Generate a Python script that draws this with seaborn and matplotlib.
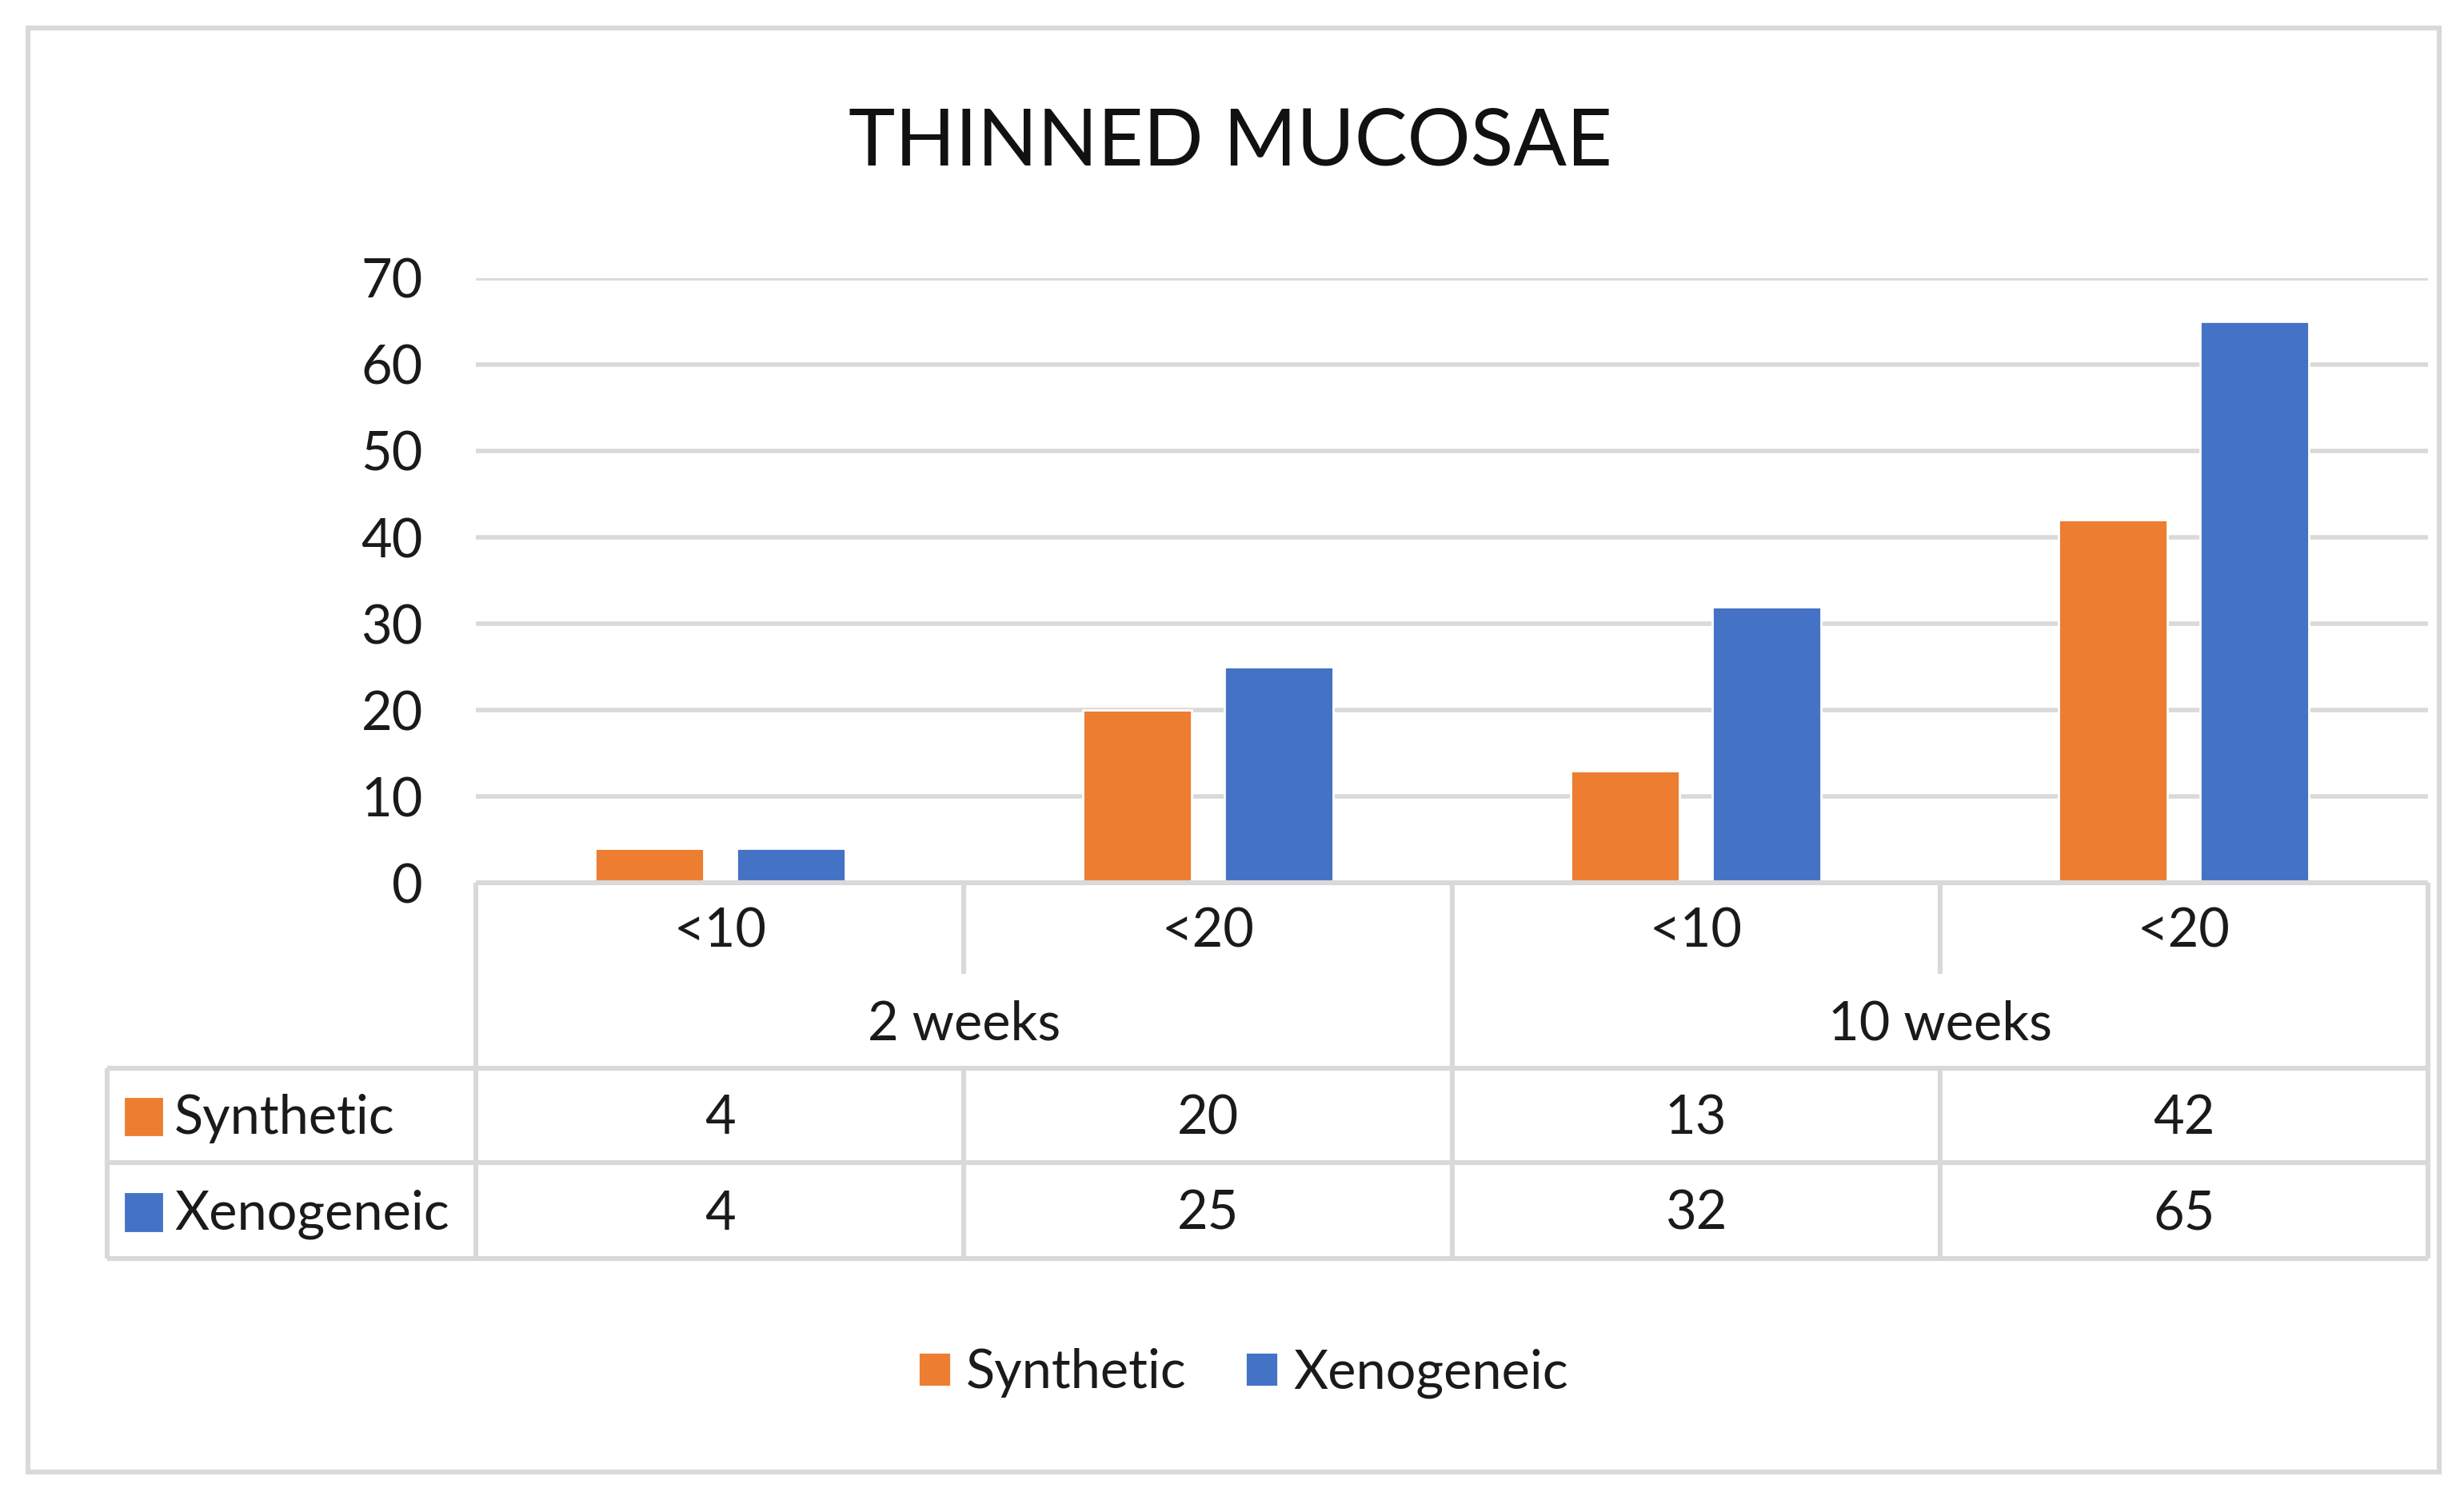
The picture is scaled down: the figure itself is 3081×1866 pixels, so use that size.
import numpy as np
import pandas as pd
import matplotlib
matplotlib.use("Agg")
import matplotlib.pyplot as plt
from matplotlib.patches import Rectangle
import seaborn as sns

# Chart data
groups = ["2 weeks", "2 weeks", "10 weeks", "10 weeks"]
thresholds = ["<10", "<20", "<10", "<20"]
synthetic = [4, 20, 13, 42]
xenogeneic = [4, 25, 32, 65]
series_names = ["Synthetic", "Xenogeneic"]
series_colors = ["#ED7D31", "#4472C4"]
y_ticks = [0, 10, 20, 30, 40, 50, 60, 70]
title = "THINNED MUCOSAE"

# Long table for seaborn
keys = [f"{g} {t}" for g, t in zip(groups, thresholds)]
df = pd.DataFrame({
    "key": keys * 2,
    "series": [series_names[0]] * 4 + [series_names[1]] * 4,
    "value": synthetic + xenogeneic,
})

sns.set_theme(style="white")
plt.rcParams['font.family'] = ['Lato', 'DejaVu Sans']

text_color = "#1a1a1a"
line_color = "#d9d9d9"
fs = 24

W, H = 3081, 1866
fig = plt.figure(figsize=(W / 200, H / 200), dpi=200)

# layout measured on a 1568 x 950 view of the reference
DW, DH = 1568.0, 949.6


def fx(px):
    return px / DW


def fy(py):
    return 1 - py / DH


ax_left, ax_right, ax_top, ax_bottom = 303, 1545, 177, 562
ax = fig.add_axes([fx(ax_left), fy(ax_bottom), fx(ax_right) - fx(ax_left),
                   fy(ax_top) - fy(ax_bottom)])

sns.barplot(data=df, x="key", y="value", hue="series", order=keys,
            hue_order=series_names, palette=series_colors, width=0.58,
            gap=0.23, errorbar=None, saturation=1, ax=ax)

ax.set_xlim(-0.5, 3.5)
ax.set_ylim(0, 70)
ax.set_yticks(y_ticks)
ax.set_yticklabels([str(v) for v in y_ticks], fontsize=fs, color=text_color)
ax.tick_params(axis="y", length=0, pad=24)
ax.set_xticks([])
ax.set_xlabel("")
ax.set_ylabel("")
for s in ax.spines.values():
    s.set_visible(False)
ax.yaxis.grid(True, color=line_color, linewidth=2)
ax.set_axisbelow(True)

# Legend at the bottom
sns.move_legend(ax, "center", bbox_to_anchor=(fx(791), fy(874)),
                bbox_transform=fig.transFigure, ncol=2, frameon=False,
                title=None, fontsize=fs, handlelength=0.62, handleheight=0.62,
                handletextpad=0.28, columnspacing=1.1)
for t in ax.get_legend().get_texts():
    t.set_color(text_color)

# Data table below the axis
tr = ax.get_xaxis_transform()
ax_h = ax_bottom - ax_top
cell = (ax_right - ax_left) / 4.0


def ya(py):
    return (ax_bottom - py) / ax_h


def xd(px):
    return (px - ax_left) / cell - 0.5


lw = 2.2
row_sub, row_grp, row_s1, row_s2 = 620, 680, 740, 801
x_lab = xd(68)


def hline(y, x0, x1):
    ax.plot([x0, x1], [ya(y), ya(y)], color=line_color, lw=lw,
            transform=tr, clip_on=False, solid_capstyle="butt")


def vline(x, y0, y1):
    ax.plot([x, x], [ya(y0), ya(y1)], color=line_color, lw=lw,
            transform=tr, clip_on=False, solid_capstyle="butt")


hline(ax_bottom, -0.5, 3.5)
for y in [row_grp, row_s1, row_s2]:
    hline(y, x_lab, 3.5)
for x in [-0.5, 1.5, 3.5]:
    vline(x, ax_bottom, row_s2)
for x in [0.5, 2.5]:
    vline(x, ax_bottom, row_sub)
    vline(x, row_grp, row_s2)
vline(x_lab, row_grp, row_s2)

for i, t in enumerate(thresholds):
    ax.text(i, ya(593), t, ha="center", va="center", fontsize=fs,
            color=text_color, transform=tr)
for g, c in [(groups[0], 0.5), (groups[2], 2.5)]:
    ax.text(c, ya(652), g, ha="center", va="center", fontsize=fs,
            color=text_color, transform=tr)

for row_y, vals, name, col in [(712, synthetic, series_names[0], series_colors[0]),
                               (773, xenogeneic, series_names[1], series_colors[1])]:
    for i, v in enumerate(vals):
        ax.text(i, ya(row_y), str(v), ha="center", va="center", fontsize=fs,
                color=text_color, transform=tr)
    ax.text(xd(111), ya(row_y), name, ha="left", va="center", fontsize=fs,
            color=text_color, transform=tr)
    fig.patches.append(Rectangle((fx(80), fy(row_y + 10)), fx(23), 23 / DH,
                                 transform=fig.transFigure, color=col))

# Title
fig.text(fx(783), fy(91), title, ha="center", va="center", fontsize=35.5,
         color="#111111")

# Outer chart border
fig.patches.append(Rectangle((fx(18), fy(937)), fx(1552) - fx(18),
                             fy(18) - fy(937), transform=fig.transFigure,
                             fill=False, edgecolor=line_color, linewidth=2.2))

fig.savefig("out.png", dpi=200, facecolor="white")
